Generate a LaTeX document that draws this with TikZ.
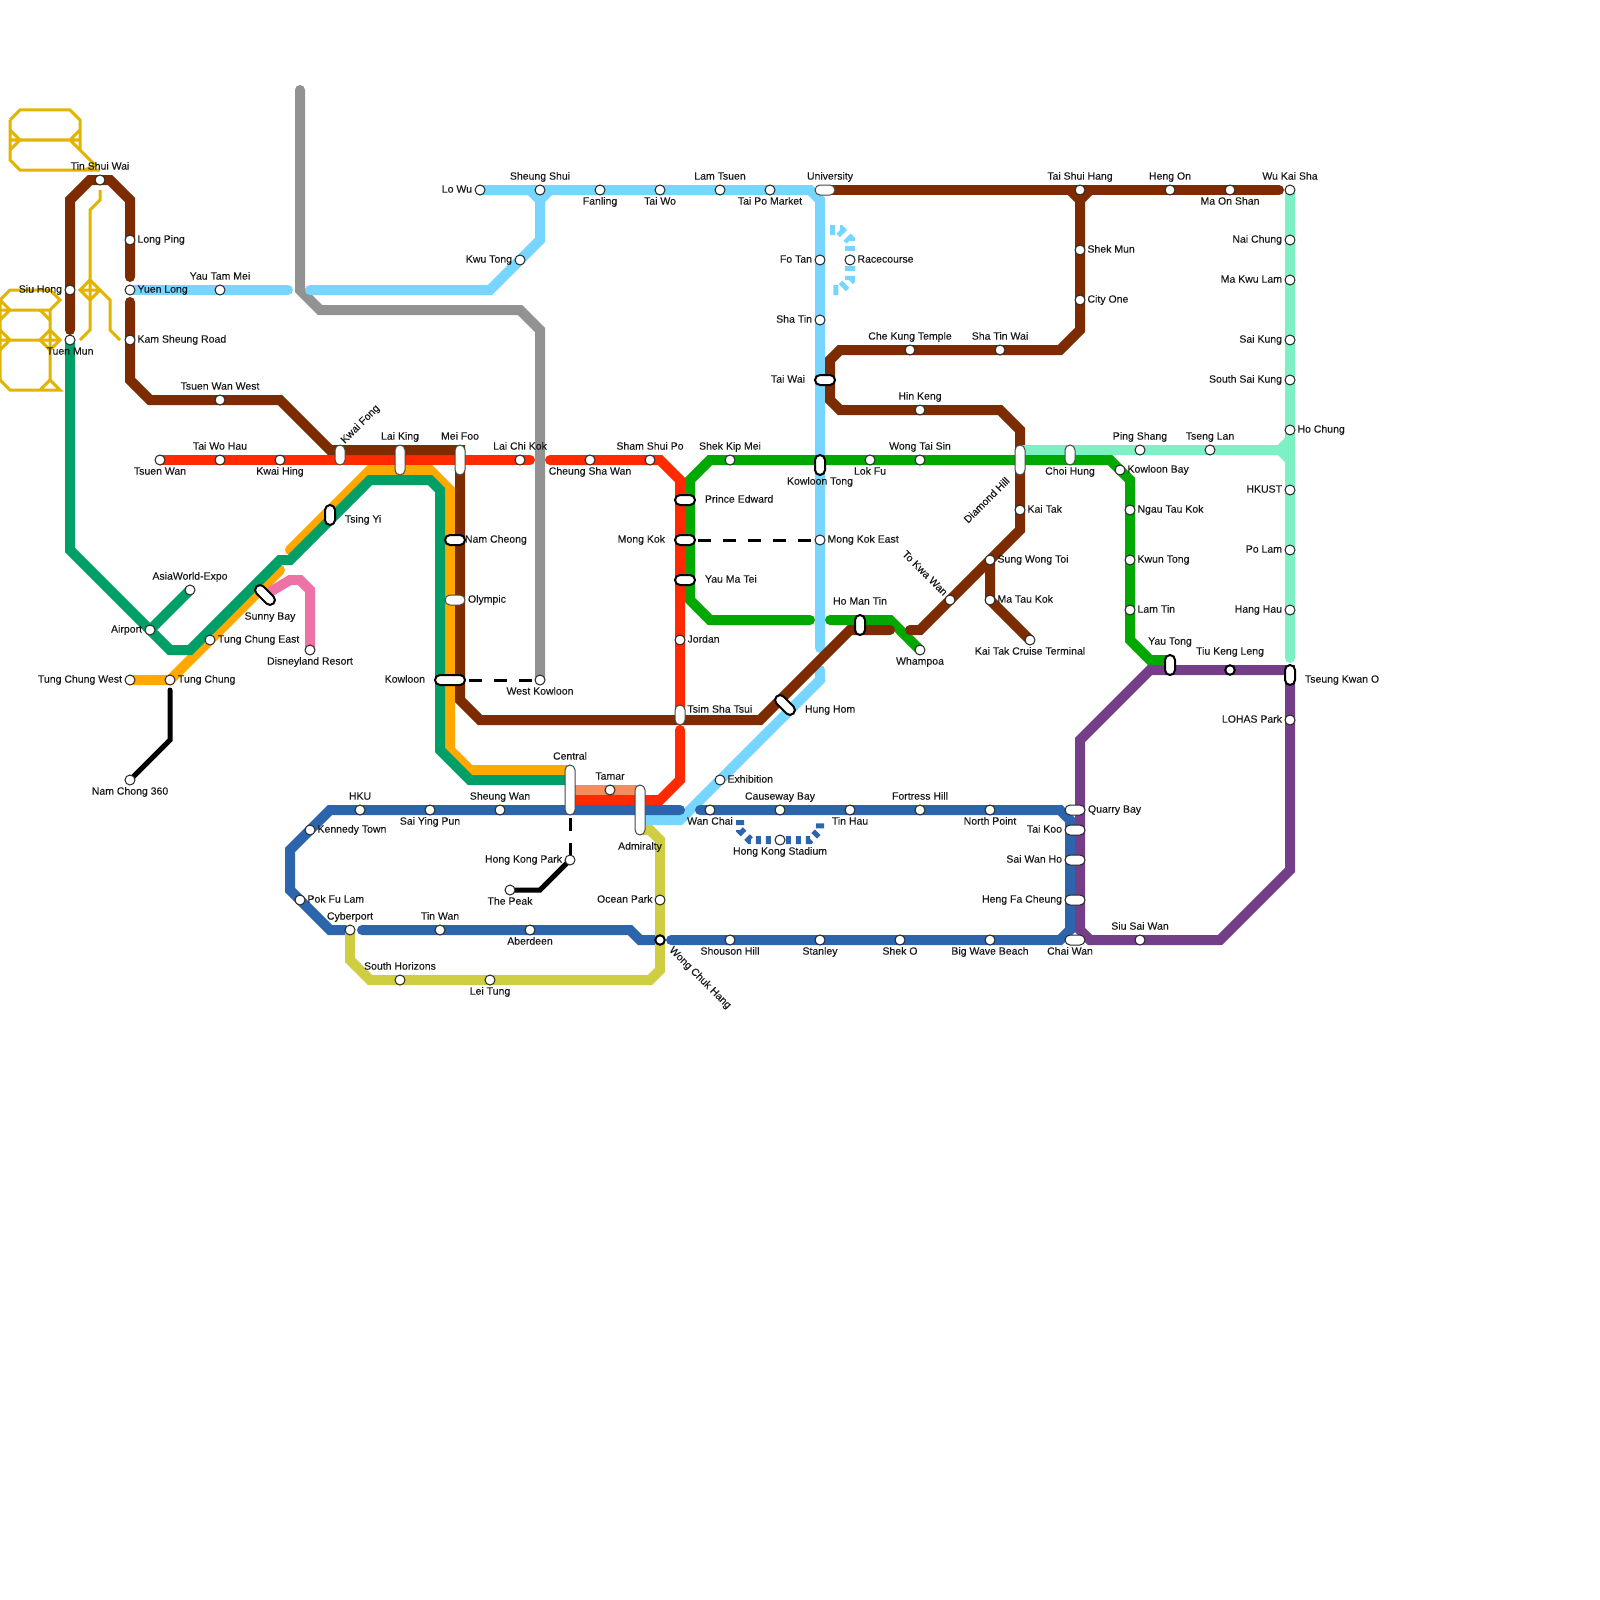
\documentclass[tikz,border=0pt]{standalone}
\usepackage{fontspec}
\setmainfont{Liberation Sans}[FakeBold=0.25]
\usetikzlibrary{backgrounds}
\definecolor{cbrown}{HTML}{7C2C00}
\definecolor{cred}{HTML}{FF2A00}
\definecolor{csky}{HTML}{76D6FF}
\definecolor{cgray}{HTML}{929292}
\definecolor{cteal}{HTML}{009F68}
\definecolor{corange}{HTML}{FFA900}
\definecolor{cgreen}{HTML}{00A800}
\definecolor{cblue}{HTML}{2C65AC}
\definecolor{cpurple}{HTML}{743F88}
\definecolor{caqua}{HTML}{7CF2C4}
\definecolor{cyellow}{HTML}{E0B400}
\definecolor{colive}{HTML}{CFCE42}
\definecolor{csalmon}{HTML}{F38C5F}
\definecolor{cpink}{HTML}{EE72A5}
\tikzset{
  st/.style={circle,draw=black!85,fill=white,line width=1pt,minimum size=10pt,inner sep=0pt,outer sep=0pt},
  stb/.style={st,draw=black,line width=2pt,minimum size=9.5pt},
  ixg/.style={rectangle,rounded corners=5pt,draw=black!72,fill=white,line width=1pt,inner sep=0pt,outer sep=0pt},
  ixd/.style={ixg,draw=black!85},
  ixb/.style={ixg,draw=black,line width=2pt},
  vlen/.style={minimum width=10pt,minimum height=#1},
  hlen/.style={minimum width=#1,minimum height=10pt},
  lb/.style={inner sep=0pt,outer sep=0pt,yshift=1pt,font=\fontsize{10.5}{12}\selectfont,text=black!90},
  rail/.style={line width=10pt,line cap=round,line join=miter,miter limit=10},
  thin rail/.style={line width=5pt,line cap=round,line join=miter,color=black},
  link/.style={line width=3pt,color=black,dash pattern=on 13pt off 12pt},
  deco/.style={line width=3pt,color=cyellow,line join=miter},
  spur/.style={line width=10pt,dash pattern=on 5pt off 5pt,color=csky},
  spurb/.style={line width=8pt,dash pattern=on 5pt off 5pt,color=cblue},
}
% style, name, position, anchor, text position, text
\newcommand{\St}[6]{\node[#1] (#2) at (#3) {}; \node[lb,anchor=#4] (#2-t) at (#5) {#6};}
\begin{document}
\begin{tikzpicture}[x=1pt,y=-1pt]
\useasboundingbox (0,0) rectangle (1600,1600);
% --- north-west
\St{st}{tsw}{100,180}{mid}{100,168}{Tin Shui Wai}
\St{st}{siuhong}{70,290}{mid east}{62,291}{Siu Hong}
\St{st}{tuenmun}{70,340}{mid}{70,353}{Tuen Mun}
\St{st}{longping}{130,240}{mid west}{137.5,241}{Long Ping}
\St{st}{yuenlong}{130,290}{mid west}{137.5,291}{Yuen Long}
\St{st}{yautammei}{220,290}{mid}{220,278}{Yau Tam Mei}
\St{st}{kamsheung}{130,340}{mid west}{137.5,341}{Kam Sheung Road}
\St{st}{tsuenwanw}{220,400}{mid}{220,388}{Tsuen Wan West}
\St{st}{tsuenwan}{160,460}{mid}{160,473}{Tsuen Wan}
\St{st}{taiwohau}{220,460}{mid}{220,448}{Tai Wo Hau}
\St{st}{kwaihing}{280,460}{mid}{280,473}{Kwai Hing}
\St{ixg,vlen=20pt}{kwaifong}{340,455}{mid west,rotate=45}{343,443}{Kwai Fong}
\St{ixg,vlen=30pt}{laiking}{400,460}{mid}{400,438}{Lai King}
\St{ixg,vlen=30pt}{meifoo}{460,460}{mid}{460,438}{Mei Foo}
\St{st}{laichikok}{520,460}{mid}{520,448}{Lai Chi Kok}
\St{st}{cheungsha}{590,460}{mid}{590,473}{Cheung Sha Wan}
\St{st}{shamshui}{650,460}{mid}{650,448}{Sham Shui Po}
\St{st}{shekkip}{730,460}{mid}{730,448}{Shek Kip Mei}
\St{st}{lokfu}{870,460}{mid}{870,473}{Lok Fu}
\St{st}{wongtai}{920,460}{mid}{920,448}{Wong Tai Sin}
\St{ixb,vlen=20pt}{kowloontong}{820,465}{mid}{820,483}{Kowloon Tong}
\St{ixg,vlen=30pt}{diamond}{1020,460}{center,rotate=45}{986.5,501}{Diamond Hill}
\St{ixg,vlen=20pt}{choihung}{1070,455}{mid}{1070,473}{Choi Hung}
\St{st}{pingshang}{1140,450}{mid}{1140,438}{Ping Shang}
\St{st}{tsenglan}{1210,450}{mid}{1210,438}{Tseng Lan}
\St{st}{kowloonbay}{1120,470}{mid west}{1127.5,471}{Kowloon Bay}
\St{st}{ngautau}{1130,510}{mid west}{1137.5,511}{Ngau Tau Kok}
\St{st}{kwuntong}{1130,560}{mid west}{1137.5,561}{Kwun Tong}
\St{st}{lamtin}{1130,610}{mid west}{1137.5,611}{Lam Tin}
\St{ixb,vlen=20pt}{yautong}{1170,665}{mid}{1170,643}{Yau Tong}
\St{stb}{tiukeng}{1230,670}{mid}{1230,653}{Tiu Keng Leng}
\St{ixb,vlen=20pt}{tko}{1290,675}{mid west}{1305,681}{Tseung Kwan O}
\St{st}{lohas}{1290,720}{mid east}{1282,721}{LOHAS Park}
\St{st}{hochung}{1290,430}{mid west}{1297.5,431}{Ho Chung}
\St{st}{hkust}{1290,490}{mid east}{1282,491}{HKUST}
\St{st}{polam}{1290,550}{mid east}{1282,551}{Po Lam}
\St{st}{hanghau}{1290,610}{mid east}{1282,611}{Hang Hau}
\St{st}{wukaisha}{1290,190}{mid}{1290,178}{Wu Kai Sha}
\St{st}{naichung}{1290,240}{mid east}{1282,241}{Nai Chung}
\St{st}{makwulam}{1290,280}{mid east}{1282,281}{Ma Kwu Lam}
\St{st}{saikung}{1290,340}{mid east}{1282,341}{Sai Kung}
\St{st}{southsai}{1290,380}{mid east}{1282,381}{South Sai Kung}
\St{st}{maonshan}{1230,190}{mid}{1230,203}{Ma On Shan}
\St{st}{hengon}{1170,190}{mid}{1170,178}{Heng On}
\St{st}{taishui}{1080,190}{mid}{1080,178}{Tai Shui Hang}
\St{st}{shekmun}{1080,250}{mid west}{1087.5,251}{Shek Mun}
\St{st}{cityone}{1080,300}{mid west}{1087.5,301}{City One}
\St{ixg,hlen=20pt}{university}{825,190}{mid}{830,178}{University}
\St{st}{taipo}{770,190}{mid}{770,203}{Tai Po Market}
\St{st}{lamtsuen}{720,190}{mid}{720,178}{Lam Tsuen}
\St{st}{taiwo}{660,190}{mid}{660,203}{Tai Wo}
\St{st}{fanling}{600,190}{mid}{600,203}{Fanling}
\St{st}{sheungshui}{540,190}{mid}{540,178}{Sheung Shui}
\St{st}{lowu}{480,190}{mid east}{472,191}{Lo Wu}
\St{st}{kwutong}{520,260}{mid east}{512,261}{Kwu Tong}
\St{st}{fotan}{820,260}{mid east}{812,261}{Fo Tan}
\St{st}{shatin}{820,320}{mid east}{812,321}{Sha Tin}
\St{ixb,hlen=20pt}{taiwai}{825,380}{mid east}{805,381}{Tai Wai}
\St{st}{racecourse}{850,260}{mid west}{857.5,261}{Racecourse}
\St{st}{chekung}{910,350}{mid}{910,338}{Che Kung Temple}
\St{st}{shatinwai}{1000,350}{mid}{1000,338}{Sha Tin Wai}
\St{st}{hinkeng}{920,410}{mid}{920,398}{Hin Keng}
\St{ixb,hlen=20pt}{prince}{685,500}{mid west}{705,501}{Prince Edward}
\St{ixb,hlen=20pt}{mongkok}{685,540}{mid east}{665,541}{Mong Kok}
\St{ixb,hlen=20pt}{yaumatei}{685,580}{mid west}{705,581}{Yau Ma Tei}
\St{st}{jordan}{680,640}{mid west}{687.5,641}{Jordan}
\St{st}{mongkoke}{820,540}{mid west}{827.5,541}{Mong Kok East}
\St{ixg,vlen=20pt}{tst}{680,715}{mid west}{687.5,711}{Tsim Sha Tsui}
\St{ixb,hlen=24pt,rotate=-45}{hunghom}{785,705}{mid west}{805,711}{Hung Hom}
\St{ixb,vlen=20pt}{homantin}{860,625}{mid}{860,603}{Ho Man Tin}
\St{st}{whampoa}{920,650}{mid}{920,663}{Whampoa}
\St{st}{tokwawan}{950,600}{center,rotate=-45}{925,574}{To Kwa Wan}
\St{st}{sungwong}{990,560}{mid west}{997.5,561}{Sung Wong Toi}
\St{st}{matau}{990,600}{mid west}{997.5,601}{Ma Tau Kok}
\St{st}{kaitak}{1020,510}{mid west}{1027.5,511}{Kai Tak}
\St{st}{cruise}{1030,640}{mid}{1030,653}{Kai Tak Cruise Terminal}
\St{st}{exhibition}{720,780}{mid west}{727.5,781}{Exhibition}
\St{st}{wanchai}{710,810}{mid}{710,823}{Wan Chai}
\St{st}{causeway}{780,810}{mid}{780,798}{Causeway Bay}
\St{st}{tinhau}{850,810}{mid}{850,823}{Tin Hau}
\St{st}{fortress}{920,810}{mid}{920,798}{Fortress Hill}
\St{st}{northpoint}{990,810}{mid}{990,823}{North Point}
\St{st}{stadium}{780,840}{mid}{780,853}{Hong Kong Stadium}
\St{ixd,hlen=20pt}{quarry}{1075,810}{mid west}{1088,811}{Quarry Bay}
\St{ixd,hlen=20pt}{taikoo}{1075,830}{mid east}{1062,831}{Tai Koo}
\St{ixd,hlen=20pt}{saiwan}{1075,860}{mid east}{1062,861}{Sai Wan Ho}
\St{ixd,hlen=20pt}{hengfa}{1075,900}{mid east}{1062,901}{Heng Fa Cheung}
\St{ixd,hlen=20pt}{chaiwan}{1075,940}{mid}{1070,953}{Chai Wan}
\St{st}{shouson}{730,940}{mid}{730,953}{Shouson Hill}
\St{st}{stanley}{820,940}{mid}{820,953}{Stanley}
\St{st}{shekO}{900,940}{mid}{900,953}{Shek O}
\St{st}{bigwave}{990,940}{mid}{990,953}{Big Wave Beach}
\St{st}{siusai}{1140,940}{mid}{1140,928}{Siu Sai Wan}
\St{stb}{wongchuk}{660,940}{center,rotate=-45}{700,979}{Wong Chuk Hang}
\St{st}{oceanpark}{660,900}{mid east}{652.5,901}{Ocean Park}
\St{ixg,vlen=50pt}{admiralty}{640,810}{mid}{640,848}{Admiralty}
\St{ixg,vlen=50pt}{central}{570,790}{mid}{570,758}{Central}
\St{st}{tamar}{610,790}{mid}{610,778}{Tamar}
\St{st}{hku}{360,810}{mid}{360,798}{HKU}
\St{st}{saiying}{430,810}{mid}{430,823}{Sai Ying Pun}
\St{st}{sheungwan}{500,810}{mid}{500,798}{Sheung Wan}
\St{st}{kennedy}{310,830}{mid west}{317.5,831}{Kennedy Town}
\St{st}{pokfulam}{300,900}{mid west}{307.5,901}{Pok Fu Lam}
\St{st}{cyberport}{350,930}{mid}{350,918}{Cyberport}
\St{st}{tinwan}{440,930}{mid}{440,918}{Tin Wan}
\St{st}{aberdeen}{530,930}{mid}{530,943}{Aberdeen}
\St{st}{southhor}{400,980}{mid}{400,968}{South Horizons}
\St{st}{leitung}{490,980}{mid}{490,993}{Lei Tung}
\St{st}{hkpark}{570,860}{mid east}{562,861}{Hong Kong Park}
\St{st}{peak}{510,890}{mid}{510,903}{The Peak}
\St{ixb,vlen=20pt}{tsingyi}{330,515}{mid west}{345,521}{Tsing Yi}
\St{ixb,hlen=20pt}{namcheong}{455,540}{mid west}{465,541}{Nam Cheong}
\St{ixg,hlen=20pt}{olympic}{455,600}{mid west}{468,601}{Olympic}
\St{ixb,hlen=30pt}{kowloon}{450,680}{mid east}{425,681}{Kowloon}
\St{st}{westkln}{540,680}{mid}{540,693}{West Kowloon}
\St{ixb,hlen=24pt,rotate=-45}{sunnybay}{265,595}{mid}{270,618}{Sunny Bay}
\St{st}{tcheast}{210,640}{mid west}{218,641}{Tung Chung East}
\St{st}{tch}{170,680}{mid west}{178,681}{Tung Chung}
\St{st}{tchwest}{130,680}{mid east}{122,681}{Tung Chung West}
\St{st}{airport}{150,630}{mid east}{142,631}{Airport}
\St{st}{asiaworld}{190,590}{mid}{190,578}{AsiaWorld-Expo}
\St{st}{disney}{310,650}{mid}{310,663}{Disneyland Resort}
\St{st}{namchong}{130,780}{mid}{130,793}{Nam Chong 360}

\begin{pgfonlayer}{background}
% decorative yellow figures
\draw[deco] (10,120)--(20,110)--(70,110)--(80,120)--(80,150);
\draw[deco] (10,120)--(10,160)--(20,170)--(100,170);
\draw[deco] (10,130)--(20,140)--(10,150) (10,140)--(20,140)--(70,140)--(80,130) (70,140)--(80,140) (70,140)--(95,165)--(85,170);
\draw[deco] (100,190)--(100,200)--(90,210)--(90,330)--(80,340);
\draw[deco] (90,280)--(80,290)--(90,300)--(100,290)--cycle (80,290)--(100,290);
\draw[deco] (100,290)--(110,300)--(110,330)--(120,340);
\draw[deco] (0,380)--(0,300)--(10,290)--(50,290)--(60,300)--(50,310)--(10,310)--(0,300);
\draw[deco] (10,310)--(0,320) (0,310)--(10,310) (40,310)--(50,320);
\draw[deco] (50,310)--(50,380) (0,340)--(60,340) (0,330)--(10,340)--(0,350);
\draw[deco] (40,340)--(50,330)--(60,340)--(50,350)--cycle;
\draw[deco] (0,380)--(10,390)--(60,390)--(50,380)--(40,390);
% lines
\draw[rail,color=csalmon,line cap=butt] (central.center)--(admiralty.center |- tamar.center);
\draw[rail,color=corange] (tchwest.center)--(tch.center)--(280,570);
\draw[rail,color=corange] (290,550)--(370,470)--(430,470)--(450,490)--(450,750)--(470,770)--(central.center |- 0,770);
\draw[rail,color=cteal] (tuenmun.center)--(70,550)--(airport.center)--(170,650)--(190,650)--(280,560)--(290,560)--(370,480)--(430,480)--(440,490)--(440,750)--(470,780)--(central.center |- 0,780);
\draw[rail,color=cteal] (airport.center)--(asiaworld.center);
\draw[rail,color=cpink] (sunnybay.center)--(290,580)--(300,580)--(310,590)--(disney.center);
\draw[rail,color=cgray] (300,90)--(300,290)--(320,310)--(520,310)--(540,330)--(westkln.center);
\draw[rail,color=cred] (tsuenwan.center)--(530,460);
\draw[rail,color=cred] (550,460)--(660,460)--(680,480)--(tst.center);
\draw[rail,color=cred] (680,730)--(680,780)--(660,800)--(central.center |- 0,800);
\draw[rail,color=csky] (yuenlong.center)--(288,290);
\draw[rail,color=csky] (310,290)--(490,290)--(540,240)--(sheungshui.center);
\draw[rail,color=csky] (530,190)--(540,200)--(550,190);
\draw[rail,color=csky] (lowu.center)--(810,190)--(820,200)--(820,648);
\draw[rail,color=csky] (820,670)--(820,680)--(680,820)--(admiralty.center |- 0,820);
\draw[spur] (830,230)--(840,230)--(850,240)--(850,280)--(840,290)--(830,290);
\draw[rail,color=cgreen] (810,620)--(710,620)--(690,600)--(690,480)--(710,460)--(1110,460)--(1130,480)--(1130,640)--(1150,660)--(yautong.center |- 0,660);
\draw[rail,color=cgreen] (830,620)--(890,620)--(whampoa.center);
\draw[rail,color=cbrown] (tuenmun.center |- 0,330)--(70,200)--(90,180)--(110,180)--(130,200)--(130,277);
\draw[rail,color=cbrown] (130,302)--(130,380)--(150,400)--(280,400)--(330,450)--(460,450)--(460,700)--(480,720)--(760,720)--(850,630)--(890,630);
\draw[rail,color=cbrown] (910,630)--(920,630)--(1020,530)--(1020,430)--(1000,410)--(840,410)--(830,400)--(830,360)--(840,350)--(1060,350)--(1080,330)--(1080,200);
\draw[rail,color=cbrown] (1070,190)--(1080,200)--(1090,190);
\draw[rail,color=cbrown] (university.center)--(1279,190);
\draw[rail,color=cbrown] (sungwong.center)--(matau.center)--(cruise.center);
\draw[rail,color=caqua] (wukaisha.center)--(1290,658);
\draw[rail,color=caqua] (diamond.center |- 0,450)--(1280,450)--(1290,440);
\draw[rail,color=caqua] (1280,450)--(1290,460);
\draw[rail,color=cgreen] (1110,460)--(diamond.center |- 0,460);
\draw[rail,color=cblue] (680,810)--(330,810)--(290,850)--(290,890)--(330,930)--(345,930);
\draw[rail,color=cblue] (362,930)--(630,930)--(640,940)--(655,940);
\draw[rail,color=cblue] (671,940)--(1060,940)--(1070,930)--(1070,820)--(1060,810)--(700,810);
\draw[spurb] (740,820)--(740,830)--(750,840)--(810,840)--(820,830)--(820,820);
\draw[rail,color=cpurple,line cap=butt] (tko.center)--(tko.center |- 0,665);
\draw[rail,color=cpurple] (tko.center |- 0,670)--(1150,670)--(1080,740)--(1080,930)--(1090,940)--(1220,940)--(1290,870)--(tko.center);
\draw[rail,color=colive] (cyberport.center)--(350,960)--(370,980)--(650,980)--(660,970)--(660,840)--(650,830)--(admiralty.center |- 0,830);
\draw[thin rail] (tch.center |- 0,690)--(170,740)--(namchong.center);
\draw[thin rail] (peak.center)--(540,890)--(hkpark.center);
\draw[link,dash phase=22pt] (central.center)--(hkpark.center);
\draw[link,dash phase=6pt] (kowloon.center)--(westkln.center);
\draw[link,dash phase=12pt] (mongkok.center)--(mongkoke.center);
\end{pgfonlayer}
\end{tikzpicture}
\end{document}
